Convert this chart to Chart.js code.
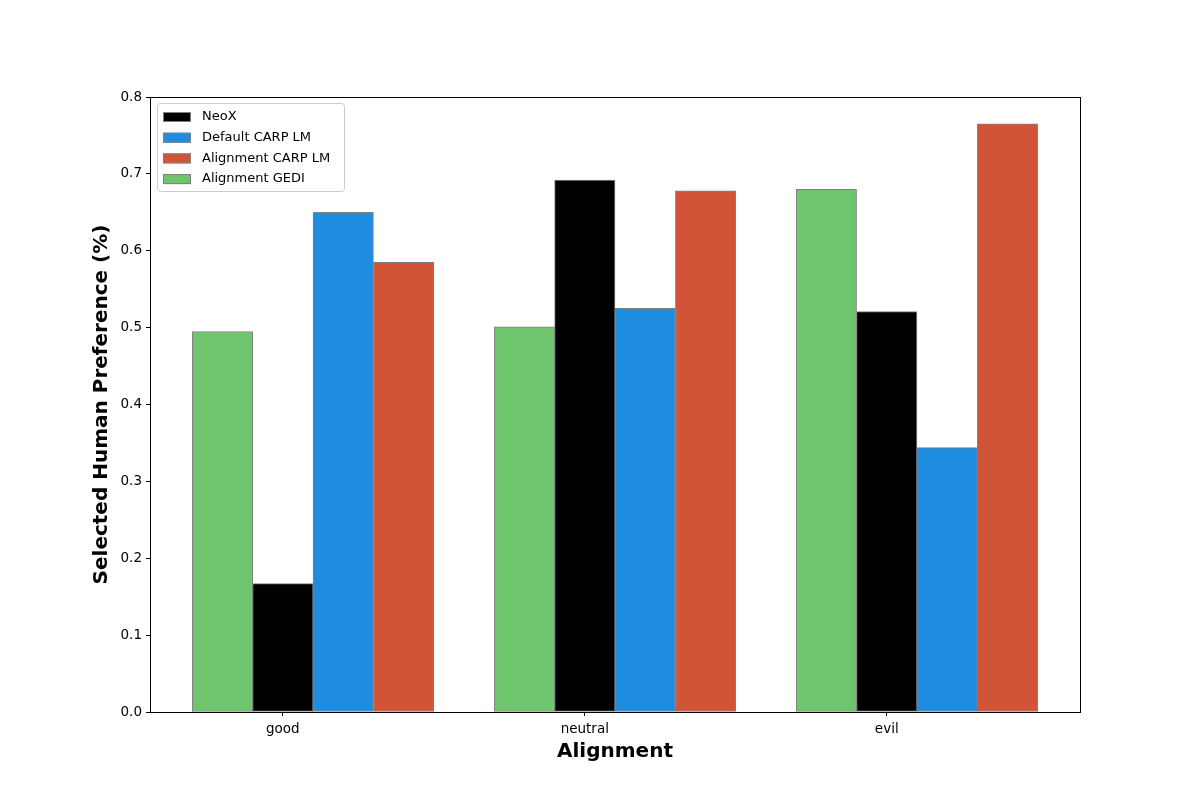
<!DOCTYPE html>
<html>
<head>
<meta charset="utf-8">
<script src="https://cdn.jsdelivr.net/npm/chart.js@4.4.1/dist/chart.umd.min.js"></script>
<style>
  html, body { margin: 0; padding: 0; background: #fff; }
  #wrap { width: 1200px; height: 800px; }
</style>
</head>
<body>
<div id="wrap"><canvas id="chart"></canvas></div>
<script>
// categories on the x axis
const categories = ['good', 'neutral', 'evil'];

// series (legend order)
const seriesNames = ['NeoX', 'Default CARP LM', 'Alignment CARP LM', 'Alignment GEDI'];
const neox = [0.167, 0.692, 0.521];
const defaultCarp = [0.650, 0.525, 0.344];
const alignmentCarp = [0.585, 0.678, 0.765];
const alignmentGedi = [0.495, 0.501, 0.680];

const yTicks = [0, 0.1, 0.2, 0.3, 0.4, 0.5, 0.6, 0.7, 0.8];

// bar placement relative to the category tick (matplotlib style offsets)
const barOffsets = [0, 0.2, 0.4, -0.2];
const colors = ['#000000', '#1f8ce0', '#d15437', '#6fc56d'];
const allSeries = [neox, defaultCarp, alignmentCarp, alignmentGedi];

const datasets = allSeries.map((vals, d) => ({
    label: seriesNames[d],
    data: vals.map((v, i) => ({ x: i + barOffsets[d], y: v })),
    backgroundColor: colors[d],
    borderColor: '#808080',
    borderWidth: 1,
    borderSkipped: false,
    grouped: false,
    barPercentage: 1,
    categoryPercentage: 1
}));

// legend drawn inside the plot area, upper left
const innerLegend = {
    id: 'innerLegend',
    afterDraw(chart) {
        const ctx = chart.ctx;
        const a = chart.chartArea;
        const x = a.left + 7, y = a.top + 6, w = 187, h = 88;
        ctx.save();
        ctx.fillStyle = 'rgba(255,255,255,0.8)';
        ctx.strokeStyle = '#cccccc';
        ctx.lineWidth = 1;
        ctx.beginPath();
        ctx.roundRect(x + 0.5, y + 0.5, w, h, 3);
        ctx.fill();
        ctx.stroke();
        ctx.font = '13px "DejaVu Sans"';
        ctx.textBaseline = 'middle';
        chart.data.datasets.forEach((ds, i) => {
            const cy = y + 14 + i * 20.7;
            ctx.fillStyle = ds.backgroundColor;
            ctx.fillRect(x + 6, cy - 5, 28, 10);
            ctx.strokeStyle = '#808080';
            ctx.strokeRect(x + 6.5, cy - 4.5, 27, 9);
            ctx.fillStyle = '#000';
            ctx.fillText(ds.label, x + 45, cy);
        });
        ctx.restore();
    }
};

// full frame around the plot (all four spines)
const frame = {
    id: 'frame',
    afterDraw(chart) {
        const ctx = chart.ctx;
        const a = chart.chartArea;
        ctx.save();
        ctx.strokeStyle = '#000';
        ctx.lineWidth = 1;
        ctx.strokeRect(Math.round(a.left) + 0.5, Math.round(a.top) + 0.5,
            Math.round(a.right - a.left), Math.round(a.bottom - a.top));
        ctx.restore();
    }
};

new Chart(document.getElementById('chart'), {
    type: 'bar',
    data: { datasets },
    options: {
        responsive: true,
        maintainAspectRatio: false,
        animation: false,
        layout: { padding: { left: 0, right: 120, top: 97, bottom: 0 } },
        plugins: {
            legend: { display: false },
            tooltip: { enabled: false }
        },
        scales: {
            x: {
                type: 'linear',
                min: -0.44,
                max: 2.64,
                offset: false,
                afterBuildTicks: (scale) => {
                    scale.ticks = categories.map((c, i) => ({ value: i }));
                },
                afterFit: (scale) => { scale.height = 88; },
                ticks: {
                    color: '#000',
                    font: { family: 'DejaVu Sans', size: 13.5 },
                    padding: 5,
                    maxRotation: 0,
                    callback: (v) => categories[v]
                },
                grid: { display: true, offset: false, drawOnChartArea: false, tickLength: 4, tickColor: '#000' },
                border: { color: '#000' },
                title: {
                    display: true,
                    text: 'Alignment',
                    color: '#000',
                    font: { family: 'DejaVu Sans', size: 20, weight: 'bold' },
                    padding: { top: 0, bottom: 36 }
                }
            },
            y: {
                min: 0,
                max: 0.8,
                afterBuildTicks: (scale) => {
                    scale.ticks = yTicks.map(v => ({ value: v }));
                },
                afterFit: (scale) => { scale.width = 150; },
                ticks: {
                    color: '#000',
                    font: { family: 'DejaVu Sans', size: 13.5 },
                    padding: 4,
                    callback: (v) => v.toFixed(1)
                },
                grid: { display: true, drawOnChartArea: false, tickLength: 4, tickColor: '#000' },
                border: { color: '#000' },
                title: {
                    display: true,
                    text: 'Selected Human Preference (%)',
                    color: '#000',
                    font: { family: 'DejaVu Sans', size: 20, weight: 'bold' },
                    padding: { top: 90, bottom: 0 }
                }
            }
        }
    },
    plugins: [innerLegend, frame]
});
</script>
</body>
</html>
